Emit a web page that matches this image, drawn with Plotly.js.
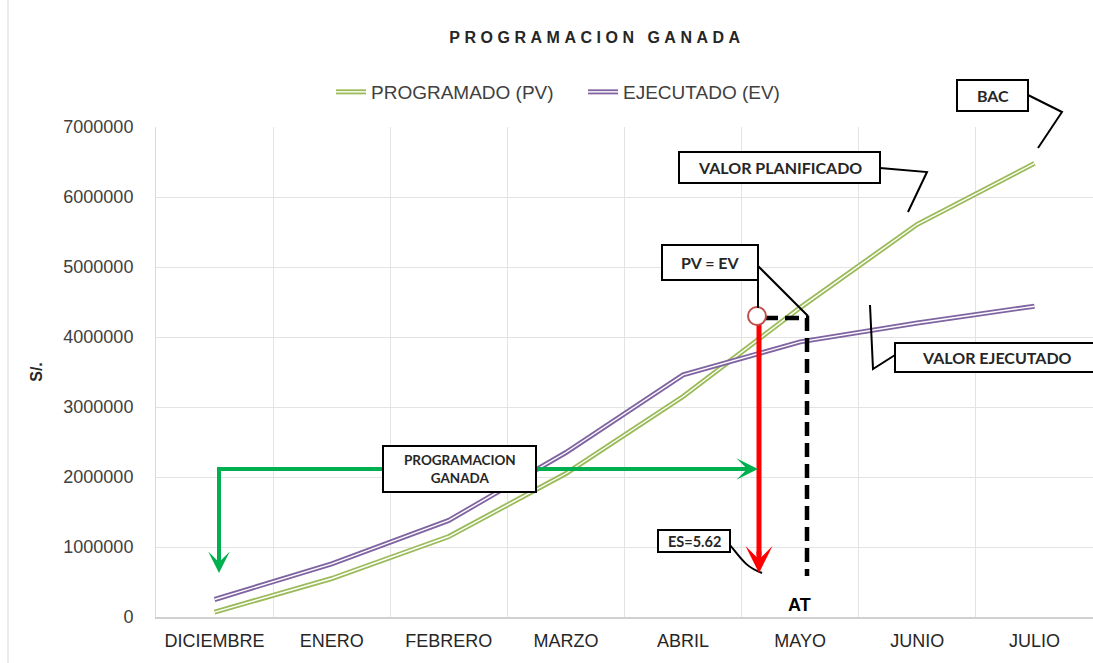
<!DOCTYPE html>
<html><head><meta charset="utf-8">
<script src="https://cdn.plot.ly/plotly-3.0.1.min.js"></script>
<style>html,body{margin:0;padding:0;background:#fff}.gtitle{letter-spacing:4.5px}</style>
</head><body>
<div id="chart" style="width:1093px;height:663px"></div>
<script>
// ---- data ----
const months = ['DICIEMBRE','ENERO','FEBRERO','MARZO','ABRIL','MAYO','JUNIO','JULIO'];
const pvValues = [70000, 550000, 1150000, 2050000, 3150000, 4420000, 5610000, 6480000];
const evValues = [250000, 760000, 1380000, 2350000, 3460000, 3930000, 4200000, 4440000];
const seriesNames = ['PROGRAMADO (PV)', 'EJECUTADO (EV)'];
const yTicks = [0, 1000000, 2000000, 3000000, 4000000, 5000000, 6000000, 7000000];
const chartTitle = 'PROGRAMACION GANADA';
const yTitle = 'S/.';
const calloutTexts = {bac:'BAC', pl:'VALOR PLANIFICADO', pvev:'PV = EV', ej:'VALOR EJECUTADO', es:'ES=5.62', pg:'PROGRAMACION<br>GANADA', at:'AT'};

// ---- layout helpers (pixel -> paper) ----
const PL = 156, PW = 937, PB = 617, PH = 490;
const fx = px => (px - PL) / PW;
const fy = py => (PB - py) / PH;
const path = pts => pts.map((p, i) => (i ? 'L' : 'M') + fx(p[0]) + ',' + fy(p[1])).join(' ');

const GREEN = '#9BBB59', PURPLE = '#8064A2', ARROWG = '#00B050';
const FONT = 'Lato, "Open Sans", sans-serif';

const traces = [
  {x: months, y: pvValues, name: seriesNames[0], type: 'scatter', mode: 'lines',
   line: {color: GREEN, width: 5}},
  {x: months, y: pvValues, showlegend: false, type: 'scatter', mode: 'lines',
   line: {color: '#fff', width: 1.4}},
  {x: months, y: evValues, name: seriesNames[1], type: 'scatter', mode: 'lines',
   line: {color: PURPLE, width: 5}},
  {x: months, y: evValues, showlegend: false, type: 'scatter', mode: 'lines',
   line: {color: '#fff', width: 1.4}}
];

const shapes = [];
const annotations = [];
const lineShape = (pts, color, width, dash) => shapes.push({type: 'path', xref: 'paper', yref: 'paper',
  path: path(pts), line: {color: color, width: width, dash: dash || 'solid'}, layer: 'above'});
const box = (x0, y0, x1, y1, text, size) => {
  shapes.push({type: 'rect', xref: 'paper', yref: 'paper', x0: fx(x0), x1: fx(x1), y0: fy(y1), y1: fy(y0),
    line: {color: '#000', width: 2}, fillcolor: '#fff', layer: 'above'});
  annotations.push({xref: 'paper', yref: 'paper', x: fx((x0 + x1) / 2), y: fy((y0 + y1) / 2),
    xanchor: 'center', yanchor: 'middle', showarrow: false, text: text,
    font: {family: FONT, size: size, color: '#262626', weight: 700}});
};
const head = (tip, tail, color, width, size) => annotations.push({xref: 'paper', yref: 'paper',
  x: fx(tip[0]), y: fy(tip[1]), ax: tail[0] - tip[0], ay: tail[1] - tip[1], text: '',
  showarrow: true, arrowhead: 3, arrowsize: size, arrowwidth: width, arrowcolor: color, standoff: 0});

// chart outer border (left)
shapes.push({type: 'line', xref: 'paper', yref: 'paper', x0: fx(8), x1: fx(8), y0: fy(0), y1: fy(663),
  line: {color: '#D9D9D9', width: 1}, layer: 'below'});

// green "programacion ganada" arrow
lineShape([[219, 560], [219, 469], [745, 469]], ARROWG, 4);
head([219, 573], [219, 555], ARROWG, 4, 0.9);
head([758, 469], [735, 469], ARROWG, 4, 0.9);
// red arrow
lineShape([[759, 318], [759, 555]], '#FF0000', 5);
head([759, 573], [759, 550], '#FF0000', 5, 0.9);
// black dashed AT line
lineShape([[764, 318], [807, 318], [807, 576]], '#000', 4.5, '14px,7px');
// circle
shapes.push({type: 'circle', xref: 'paper', yref: 'paper', x0: fx(748), x1: fx(766), y0: fy(325), y1: fy(307),
  line: {color: '#C0504D', width: 2}, fillcolor: '#fff', layer: 'above'});

// callout leader lines
lineShape([[1028, 95], [1062, 112], [1038, 148]], '#000', 2);
lineShape([[880, 168], [927, 172], [908, 212]], '#000', 2);
lineShape([[758, 280], [758, 308]], '#000', 2);
lineShape([[758, 266], [808, 316]], '#000', 2);
lineShape([[895, 355], [873, 369], [870, 305]], '#000', 2);
shapes.push({type: 'path', xref: 'paper', yref: 'paper', layer: 'above', line: {color: '#000', width: 2},
  path: 'M' + fx(730) + ',' + fy(545) + ' C' + fx(742) + ',' + fy(560) + ' ' + fx(746) + ',' + fy(567) + ' ' + fx(762) + ',' + fy(573)});

// boxes
box(957, 80, 1028, 111, calloutTexts.bac, 16);
box(679, 152, 880, 183, calloutTexts.pl, 16);
box(662, 245, 758, 280, calloutTexts.pvev, 16);
box(895, 343, 1098, 372, calloutTexts.ej, 16);
box(658, 530, 730, 552, calloutTexts.es, 14.5);
box(383, 446, 536, 492, calloutTexts.pg, 13.5);
annotations.push({xref: 'paper', yref: 'paper', x: fx(799), y: fy(605), xanchor: 'center', yanchor: 'middle',
  showarrow: false, text: calloutTexts.at, font: {family: 'Liberation Sans, Arial, sans-serif', size: 18, color: '#000', weight: 700}});

const layout = {
  width: 1093, height: 663,
  margin: {l: PL, r: 1093 - PL - PW, t: 127, b: 663 - PB, pad: 0},
  paper_bgcolor: '#fff', plot_bgcolor: '#fff',
  font: {family: 'Liberation Sans, Arial, sans-serif', color: '#404040'},
  title: {text: chartTitle, x: 597 / 1093, xref: 'container', xanchor: 'center',
    y: 1 - 37 / 663, yanchor: 'middle', font: {size: 16, color: '#262626', weight: 700}},
  showlegend: true,
  legend: {orientation: 'h', x: fx(583), xanchor: 'center', y: fy(92), yanchor: 'middle',
    font: {size: 19, color: '#404040'}, bgcolor: 'rgba(0,0,0,0)', itemwidth: 30, tracegroupgap: 0,
    entrywidth: 207},
  xaxis: {type: 'category', range: [-0.5, 7.5], tickson: 'boundaries', showgrid: true, gridcolor: '#E3E3E3',
    showline: true, linecolor: '#D0D0D0', linewidth: 1.5, ticks: '', ticklabelstandoff: 7, tickangle: 0,
    tickfont: {size: 18, color: '#262626'}, fixedrange: true},
  yaxis: {range: [0, 7000000], tickvals: yTicks, tickformat: 'd', showgrid: true, gridcolor: '#E3E3E3',
    zeroline: false, showline: true, linecolor: '#D9D9D9', ticks: '', ticklabelstandoff: 18,
    tickfont: {size: 18, color: '#404040'},
    title: {text: yTitle, standoff: 16, font: {size: 16, color: '#262626', weight: 700}}, fixedrange: true},
  shapes: shapes,
  annotations: annotations,
  hovermode: false
};

Plotly.newPlot('chart', traces, layout, {displayModeBar: false, staticPlot: true}).then(gd => {
  gd.querySelectorAll('.legend .legendlines path').forEach(p => {
    const c = p.cloneNode(true);
    c.style.stroke = '#fff';
    c.style.strokeWidth = '1.4px';
    p.parentNode.appendChild(c);
  });
});
</script>
</body></html>
